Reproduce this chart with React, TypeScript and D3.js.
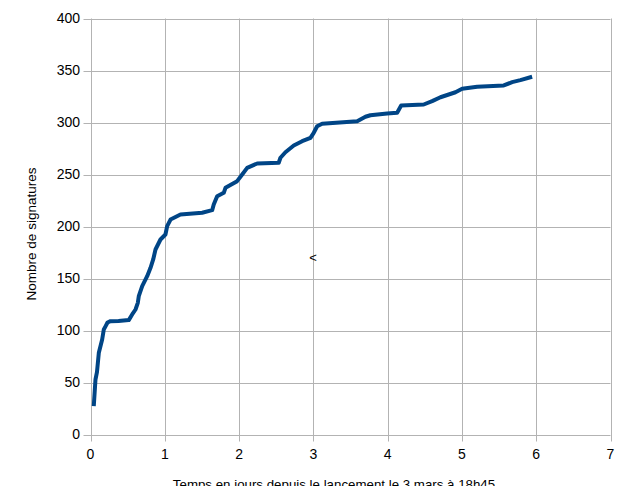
import React from "react";
import * as d3 from "d3";

const days = [0.044, 0.067, 0.087, 0.112, 0.157, 0.179, 0.202, 0.229, 0.269, 0.377, 0.515, 0.561, 0.606, 0.637, 0.65, 0.696, 0.763, 0.808, 0.844, 0.875, 0.942, 1.009, 1.032, 1.077, 1.211, 1.503, 1.638, 1.659, 1.705, 1.794, 1.817, 1.974, 2.042, 2.109, 2.244, 2.534, 2.557, 2.624, 2.736, 2.849, 2.961, 3.005, 3.051, 3.118, 3.59, 3.701, 3.768, 3.993, 4.128, 4.182, 4.486, 4.599, 4.711, 4.822, 4.913, 5.003, 5.205, 5.563, 5.676, 5.787, 5.945];
const signatures = [27.2, 52.9, 60, 78.5, 91.3, 101, 104, 107.7, 109, 109.1, 110, 115.4, 120.2, 126.6, 133, 142.6, 152.2, 160.3, 168.3, 177.9, 187.5, 192.3, 200.3, 206.7, 211.5, 213.2, 215.7, 221.2, 229.1, 232.4, 237.2, 243.6, 250, 256.4, 260.6, 261.3, 266.1, 271.4, 277.9, 282, 285.3, 290.1, 296.4, 298.8, 301.3, 305.5, 307, 308.7, 309.3, 316.3, 317.3, 320.5, 324.3, 326.9, 329.1, 332.4, 334.3, 335.6, 338.8, 340.7, 344];
const xTicks = [0, 1, 2, 3, 4, 5, 6, 7];
const yTicks = [0, 50, 100, 150, 200, 250, 300, 350, 400];
const xTitle = "Temps en jours depuis le lancement le 3 mars à 18h45";
const yTitle = "Nombre de signatures";

export default function App() {
  const W = 627, H = 486;
  const x = d3.scaleLinear().domain([0, 7]).range([90.5, 610.5]);
  const y = d3.scaleLinear().domain([0, 400]).range([434.5, 18.5]);
  const pts = days.map((d, i) => [d, signatures[i]] as [number, number]);
  const line = d3.line<[number, number]>().x(d => x(d[0])).y(d => y(d[1]));
  const font = "'Liberation Sans', Arial, sans-serif";
  const grid = "#b3b3b3";
  return (
    <svg width={W} height={H} style={{ position: "fixed", top: 0, left: 0, background: "#fff" }} fontFamily={font}>
      <rect width={W} height={H} fill="#fff" />
      {yTicks.map(t => (
        <g key={"y" + t}>
          <line x1={x(0) - 7} x2={x(7)} y1={Math.round(y(t)) + 0.5} y2={Math.round(y(t)) + 0.5} stroke={grid} strokeWidth={1} />
          <text x={80} y={y(t)} dy="0.35em" textAnchor="end" fontSize={14} fill="#000">{t}</text>
        </g>
      ))}
      {xTicks.map(t => (
        <g key={"x" + t}>
          <line x1={Math.round(x(t)) + 0.5} x2={Math.round(x(t)) + 0.5} y1={y(400)} y2={y(0) + 7} stroke={grid} strokeWidth={1} />
          <text x={x(t)} y={459} textAnchor="middle" fontSize={14} fill="#000">{t}</text>
        </g>
      ))}
      <path d={line(pts) || ""} fill="none" stroke="#004586" strokeWidth={4} strokeLinejoin="round" />
      <text x={313} y={257} dy="0.35em" textAnchor="middle" fontSize={13} fill="#000">&lt;</text>
      <text transform={`translate(36,234) rotate(-90)`} textAnchor="middle" fontSize={13.5} fill="#000">{yTitle}</text>
      <text x={334} y={489} textAnchor="middle" fontSize={13.3} fill="#000">{xTitle}</text>
    </svg>
  );
}
